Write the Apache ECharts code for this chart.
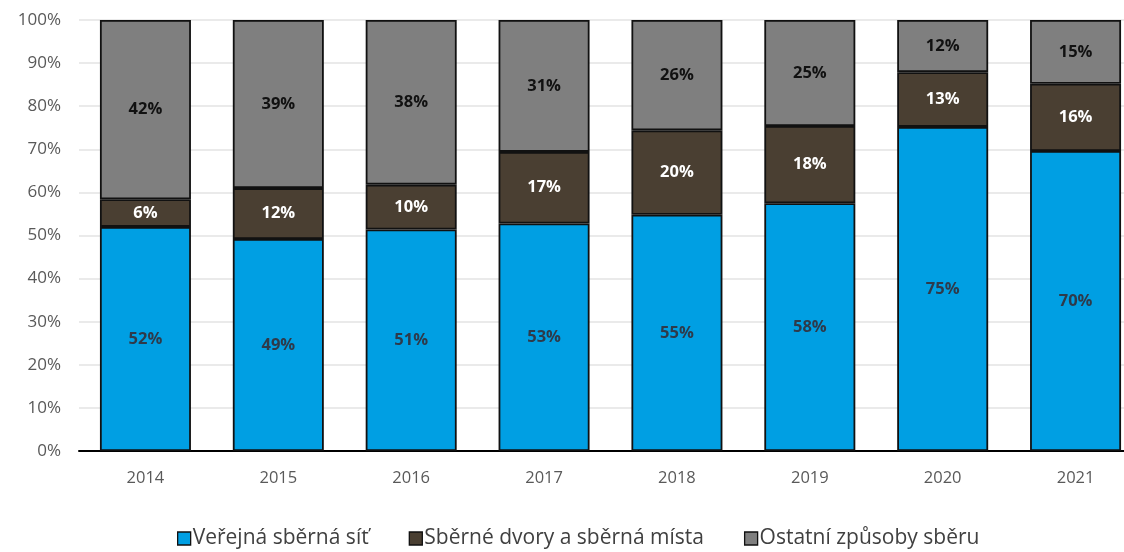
<!DOCTYPE html>
<html>
<head>
<meta charset="utf-8">
<script src="https://cdn.jsdelivr.net/npm/echarts@6/dist/echarts.min.js"></script>
<style>html,body{margin:0;padding:0;background:#fff}#c{width:1124px;height:552px}</style>
</head>
<body>
<div id="c"></div>
<script>
const categories = ['2014','2015','2016','2017','2018','2019','2020','2021'];
const seriesNames = ['Veřejná sběrná síť','Sběrné dvory a sběrná místa','Ostatní způsoby sběru'];
const verejna = [52.0, 49.2, 51.4, 52.8, 54.8, 57.5, 75.2, 69.6];
const dvory = [6.4, 11.8, 10.4, 16.6, 19.6, 17.9, 12.7, 15.6];
const ostatni = [41.6, 39.0, 38.2, 30.6, 25.6, 24.6, 12.1, 14.8];
const yTicks = [0,10,20,30,40,50,60,70,80,90,100];

const FONT = 'Open Sans';
const colors = ['#009FE3', '#4A3F32', '#7F7F7F'];
const labelColors = ['#2E3A4A', '#FFFFFF', '#111111'];
const dataSets = [verejna, dvory, ostatni];

const chart = echarts.init(document.getElementById('c'));
chart.setOption({
  animation: false,
  textStyle: { fontFamily: FONT },
  grid: { left: 79, width: 1063, top: 20, bottom: 101, containLabel: false, outerBoundsMode: 'none' },
  legend: {
    bottom: -2,
    left: 172,
    itemWidth: 13, itemHeight: 13, itemGap: 40,
    icon: 'rect',
    textStyle: { fontFamily: FONT, fontSize: 21, color: '#404040', padding: [0,0,0,-3] },
    data: seriesNames.map((n, i) => ({ name: n, itemStyle: { color: colors[i], borderColor: '#111', borderWidth: 1.3 } }))
  },
  xAxis: {
    type: 'category',
    data: categories,
    axisLine: { lineStyle: { color: '#000', width: 2 } },
    axisTick: { show: false },
    axisLabel: { color: '#595959', fontSize: 16.5, margin: 19, fontFamily: FONT }
  },
  yAxis: {
    type: 'value',
    min: yTicks[0], max: yTicks[yTicks.length-1], interval: 10,
    axisLine: { show: false },
    axisTick: { show: false },
    splitLine: { lineStyle: { color: '#E3E3E3', width: 1.5 } },
    axisLabel: { color: '#595959', fontSize: 17, margin: 18, fontFamily: FONT, formatter: v => v + '%' }
  },
  series: dataSets.map((d, i) => ({
    name: seriesNames[i],
    type: 'bar',
    stack: 'total',
    barWidth: 91,
    data: d,
    itemStyle: { color: colors[i], borderColor: '#111', borderWidth: 1.8 },
    label: {
      show: true,
      position: 'inside',
      color: labelColors[i],
      fontWeight: 'bold',
      fontSize: 16.5,
      fontFamily: FONT,
      formatter: p => Math.round(p.value) + '%'
    }
  }))
});
</script>
</body>
</html>
